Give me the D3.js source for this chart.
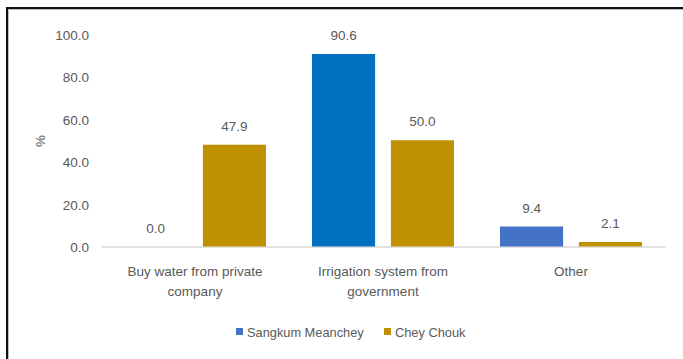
<!DOCTYPE html>
<html>
<head>
<meta charset="utf-8">
<script src="https://cdn.jsdelivr.net/npm/d3@7"></script>
<style>
  html, body { margin: 0; padding: 0; background: #fff; }
  svg { display: block; }
  text { font-family: "Liberation Sans", Arial, sans-serif; fill: #595959; }
</style>
</head>
<body>
<script>
const categories = [["Buy water from private", "company"], ["Irrigation system from", "government"], ["Other"]];
const seriesNames = ["Sangkum Meanchey", "Chey Chouk"];
const sangkumMeanchey = [0.0, 90.6, 9.4];
const cheyChouk = [47.9, 50.0, 2.1];
const yTicks = [0, 20, 40, 60, 80, 100];

const W = 683, H = 359;
const svg = d3.select("body").append("svg").attr("width", W).attr("height", H);

// frame
svg.append("line").attr("x1", 7).attr("x2", W).attr("y1", 8).attr("y2", 8).attr("stroke", "#111").attr("stroke-width", 2);
svg.append("line").attr("x1", 7).attr("x2", 7).attr("y1", 7).attr("y2", H).attr("stroke", "#111").attr("stroke-width", 2);
svg.append("line").attr("x1", 8.5).attr("x2", W).attr("y1", 9.5).attr("y2", 9.5).attr("stroke", "#bbb").attr("stroke-width", 1);
svg.append("line").attr("x1", 8.5).attr("x2", 8.5).attr("y1", 9.5).attr("y2", H).attr("stroke", "#bbb").attr("stroke-width", 1);

const x0 = d3.scaleBand().domain(d3.range(categories.length)).range([101, 665]).paddingInner(0).paddingOuter(0);
const x1 = d3.scaleBand().domain([0, 1]).range([23, x0.bandwidth() - 23]).paddingInner(0.2);
const y = d3.scaleLinear().domain([0, 100]).range([246.5, 34]);

const sangkumColors = ["#4472C4", "#0070C0", "#4472C4"];
const cheyColors = ["#BF9000", "#BF9000", "#BF9000"];
const legendColors = ["#4472C4", "#BF9000"];

// y axis labels
const yAxis = d3.axisLeft(y).tickValues(yTicks).tickFormat(d3.format(".1f")).tickSize(0).tickPadding(0);
const ya = svg.append("g").attr("transform", "translate(89,1)").call(yAxis);
ya.select(".domain").remove();
ya.selectAll("text").style("font-size", "13.5px").style("font-family", null).attr("fill", "#595959");

// x axis line
const xa = svg.append("g").attr("transform", `translate(0,${y(0)})`)
  .call(d3.axisBottom(x0).tickSize(0).tickFormat(""));
xa.select(".domain").attr("stroke", "#D9D9D9").attr("stroke-width", 1.5);

// % label
svg.append("text").attr("transform", "translate(45,141) rotate(-90)")
  .attr("text-anchor", "middle").style("font-size", "13.5px").text("%");

const series = [sangkumMeanchey, cheyChouk];
const colors = [sangkumColors, cheyColors];

series.forEach((vals, s) => {
  const g = svg.append("g");
  g.selectAll("rect").data(vals).join("rect")
    .attr("x", (d, i) => x0(i) + x1(s))
    .attr("width", x1.bandwidth())
    .attr("y", d => y(d))
    .attr("height", d => y(0) - y(d))
    .attr("fill", (d, i) => colors[s][i]);
  g.selectAll("text").data(vals).join("text")
    .attr("x", (d, i) => x0(i) + x1(s) + x1.bandwidth() / 2)
    .attr("y", d => y(d) - 14)
    .attr("text-anchor", "middle")
    .style("font-size", "13.5px")
    .text(d => d3.format(".1f")(d));
});

// category labels
categories.forEach((lines, i) => {
  const t = svg.append("text").attr("text-anchor", "middle").style("font-size", "13.5px");
  lines.forEach((ln, j) => {
    t.append("tspan").attr("x", x0(i) + x0.bandwidth() / 2).attr("y", 276 + j * 20).text(ln);
  });
});

// legend
const legendX = [236, 384];
seriesNames.forEach((n, i) => {
  svg.append("rect").attr("x", legendX[i]).attr("y", 328).attr("width", 7).attr("height", 7).attr("fill", legendColors[i]);
  svg.append("text").attr("x", legendX[i] + 11).attr("y", 336.5).style("font-size", "12.8px").text(n);
});
</script>
</body>
</html>
